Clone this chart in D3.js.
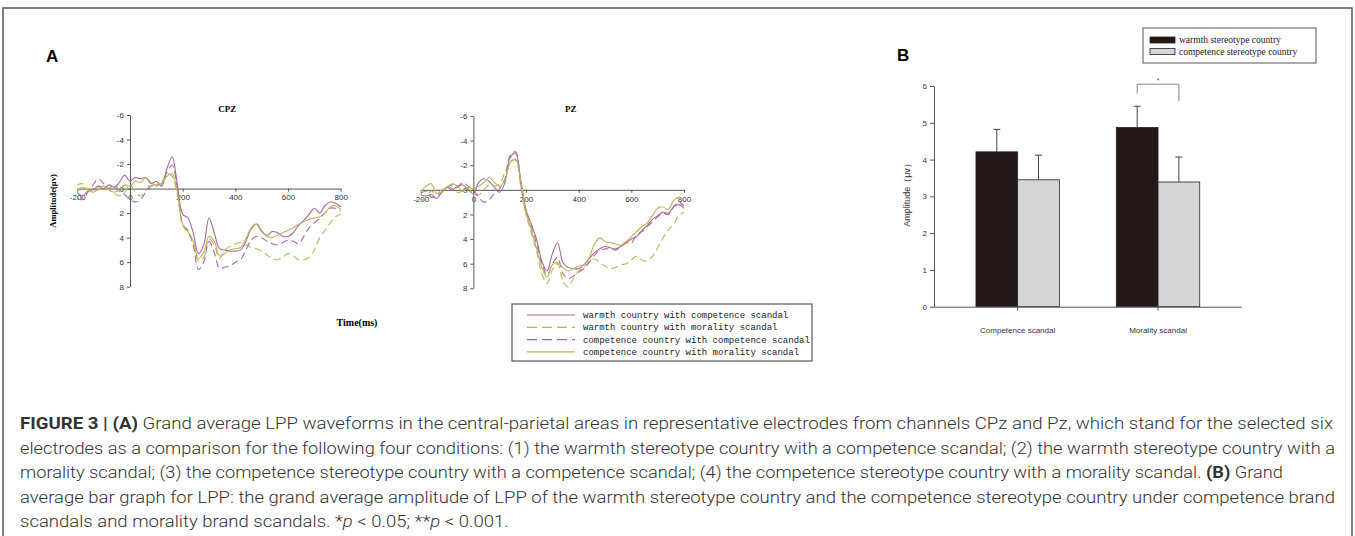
<!DOCTYPE html>
<html>
<head>
<meta charset="utf-8">
<script src="https://cdn.jsdelivr.net/npm/d3@7"></script>
<style>
body { margin: 0; background: #fff; }
</style>
</head>
<body>
<svg width="1355" height="536"></svg>
<script>
const times = [-200, -180, -160, -140, -120, -100, -80, -60, -40, -20, 0, 20, 40, 60, 80, 100, 120, 140, 160, 180, 200,
  220, 240, 260, 280, 300, 320, 340, 360, 380, 400, 420, 440, 460, 480, 500, 520, 540, 560, 580, 600,
  620, 640, 660, 680, 700, 720, 740, 760, 780, 800];

const seriesNames = [
  "warmth country with competence scandal",
  "warmth country with morality scandal",
  "competence country with competence scandal",
  "competence country with morality scandal"
];

// CPZ, amplitude in µV (negative up)
const cpzWarmthCompetence = [0.3, 0.6, 0.2, 0.1, -0.2, 0.0, -0.3, -0.1, -0.5, -1.1, -0.6, -0.9, -0.8, -0.9, -0.4, -0.6, -0.2, -1.6, -2.6, -0.3, 2.1,
  2.4, 3.6, 5.3, 4.6, 2.4, 3.6, 4.9, 5.0, 5.1, 5.1, 5.0, 4.3, 3.3, 2.9, 3.5, 3.8, 3.5, 3.6, 3.9, 3.9,
  3.6, 3.0, 2.6, 2.1, 1.6, 2.0, 1.4, 1.1, 1.2, 1.5];
const cpzWarmthMorality = [-0.3, -0.4, 0.0, 0.2, 0.1, -0.2, 0.1, 0.4, 0.6, 0.3, -0.3, 0.3, 0.6, 0.2, -0.4, -0.2, -0.5, -1.2, -1.0, 0.5, 3.0,
  3.6, 4.4, 5.9, 5.6, 4.1, 4.6, 5.7, 5.0, 4.7, 4.5, 4.4, 4.6, 4.8, 4.9, 5.1, 5.4, 5.7, 5.8, 5.6, 5.3,
  5.5, 5.8, 5.8, 5.6, 5.0, 4.0, 3.4, 2.8, 2.3, 2.1];
const cpzCompetenceCompetence = [0.8, 0.9, 0.3, -0.3, -0.8, -0.4, 0.0, -0.3, 0.2, 0.5, 0.9, 1.1, 0.9, 0.3, -0.2, -0.3, -0.4, -1.3, -1.9, 0.0, 2.9,
  3.4, 4.6, 6.6, 6.0, 4.3, 5.2, 6.5, 6.4, 6.3, 6.0, 5.8, 5.0, 4.2, 3.9, 4.0, 4.3, 4.5, 4.6, 4.4, 4.2,
  4.3, 4.5, 3.9, 3.2, 2.8, 2.4, 2.0, 1.6, 1.6, 1.8];
const cpzCompetenceMorality = [0.1, -0.1, 0.1, 0.3, 0.0, -0.2, 0.1, 0.3, 0.1, -0.3, -0.2, -0.6, -0.5, -0.9, -0.5, -0.3, -0.4, -1.0, -1.2, 0.3, 2.9,
  3.5, 4.3, 5.7, 5.2, 3.9, 4.3, 5.5, 5.3, 5.0, 4.9, 4.8, 4.1, 3.2, 2.9, 3.4, 3.9, 4.0, 3.8, 3.6, 3.4,
  3.2, 2.9, 2.7, 2.5, 2.4, 2.3, 2.0, 1.5, 1.4, 1.7];

// PZ
const pzWarmthCompetence = [0.4, 0.5, 0.4, 0.7, 0.2, -0.2, 0.0, -0.3, -0.4, 0.0, 0.3, -0.6, -0.9, -0.7, -0.2, 0.2, -0.6, -2.6, -3.0, -0.8, 1.6,
  2.8, 4.0, 5.8, 6.6, 5.2, 4.3, 5.9, 6.3, 6.4, 6.4, 6.1, 5.6, 5.1, 4.8, 4.6, 4.7, 4.8, 4.6, 4.3, 4.0,
  3.8, 3.3, 2.9, 2.4, 2.1, 1.8, 1.9, 1.4, 1.2, 1.5];
const pzWarmthMorality = [0.9, 0.6, 0.1, 0.3, 0.0, -0.3, -0.1, 0.2, 0.1, -0.1, 0.3, 0.4, 0.0, -0.4, -0.3, -0.5, -1.4, -2.3, -2.4, -0.3, 2.0,
  3.5, 5.0, 6.8, 7.6, 6.5, 6.0, 7.4, 7.9, 7.2, 6.6, 6.3, 5.8, 5.6, 5.9, 6.2, 6.4, 6.3, 6.1, 6.0, 5.7,
  5.4, 5.7, 5.8, 5.4, 4.7, 3.9, 3.3, 2.8, 2.1, 1.8];
const pzCompetenceCompetence = [0.3, 0.1, 0.6, 0.5, 0.2, -0.2, -0.4, -0.2, -0.6, -0.3, 0.0, 0.6, 1.0, 0.8, 0.3, -0.1, -0.9, -2.8, -3.1, -0.5, 1.9,
  3.0, 4.4, 6.0, 6.9, 6.0, 5.5, 6.8, 7.2, 7.0, 6.7, 6.4, 5.9, 5.3, 4.9, 4.8, 4.8, 4.9, 4.6, 4.3, 4.3,
  3.7, 3.4, 3.0, 2.6, 2.2, 1.9, 2.0, 1.4, 1.0, 1.3];
const pzCompetenceMorality = [0.2, -0.3, -0.5, 0.3, 0.2, -0.2, -0.5, -0.3, 0.1, -0.2, -0.1, -0.3, -0.6, -1.0, -0.6, -0.3, -0.8, -2.2, -2.5, -0.8, 1.8,
  3.2, 4.8, 6.3, 7.1, 6.1, 5.9, 6.3, 6.6, 6.4, 6.2, 6.1, 5.5, 4.4, 3.9, 4.2, 4.3, 4.4, 4.5, 4.2, 3.8,
  3.4, 3.0, 2.7, 2.1, 1.5, 1.4, 1.6, 0.9, 0.6, 0.8];

const timeTicks = [-200, 0, 200, 400, 600, 800];
const ampTicks = [-6, -4, -2, 0, 2, 4, 6, 8];

// bar panel
const barCategories = ["Competence scandal", "Morality scandal"];
const barGroups = ["warmth stereotype country", "competence stereotype country"];
const warmthMeans = [4.21, 4.87];
const competenceMeans = [3.45, 3.39];
const warmthErrors = [0.61, 0.58];
const competenceErrors = [0.67, 0.68];
const barTicks = [0, 1, 2, 3, 4, 5, 6];

const mauve = "#a96a9b";
const olive = "#b7b65a";
const lineStyles = [
  { color: mauve, dash: null },
  { color: olive, dash: "7,4" },
  { color: mauve, dash: "7,4" },
  { color: olive, dash: null }
];

const svg = d3.select("svg");

// frame
svg.append("path")
  .attr("d", "M3,536 V8 H1352 V536")
  .attr("fill", "none")
  .attr("stroke", "#555")
  .attr("stroke-width", 1.5);

svg.append("text").attr("x", 46).attr("y", 62)
  .attr("font-family", "Liberation Sans, Arial, sans-serif")
  .attr("font-weight", "bold").attr("font-size", 17).text("A");
svg.append("text").attr("x", 897).attr("y", 61)
  .attr("font-family", "Liberation Sans, Arial, sans-serif")
  .attr("font-weight", "bold").attr("font-size", 17).text("B");

function drawErp(title, series, xRange, yRange) {
  const x = d3.scaleLinear().domain([-200, 800]).range(xRange);
  const y = d3.scaleLinear().domain([-6, 8]).range(yRange);
  const g = svg.append("g");

  const xAxis = g.append("g")
    .attr("transform", `translate(0,${y(0)})`)
    .call(d3.axisBottom(x).tickValues(timeTicks).tickFormat(d => String(d)).tickSize(3).tickSizeOuter(0));
  const yAxis = g.append("g")
    .attr("transform", `translate(${x(0)},0)`)
    .call(d3.axisLeft(y).tickValues(ampTicks).tickFormat(d => String(d)).tickSize(3).tickSizeOuter(0));
  [xAxis, yAxis].forEach(a => {
    a.selectAll("path, line").attr("stroke", "#555");
    a.selectAll("text").attr("font-family", "Liberation Sans, Arial, sans-serif")
      .attr("font-size", 8).attr("fill", "#333");
  });

  const line = d3.line()
    .x((d, i) => x(times[i]))
    .y(d => y(d))
    .curve(d3.curveCatmullRom.alpha(0.5));

  series.forEach((s, k) => {
    g.append("path")
      .datum(s)
      .attr("d", line)
      .attr("fill", "none")
      .attr("stroke", lineStyles[k].color)
      .attr("stroke-width", 1.1)
      .attr("stroke-dasharray", lineStyles[k].dash);
  });

  g.append("text")
    .attr("x", (x(0) + x(800)) / 2 - 8)
    .attr("y", 112)
    .attr("text-anchor", "middle")
    .attr("font-family", "Liberation Serif, Times New Roman, serif")
    .attr("font-weight", "bold")
    .attr("font-size", 9)
    .text(title);
}

drawErp("CPZ", [cpzWarmthCompetence, cpzWarmthMorality, cpzCompetenceCompetence, cpzCompetenceMorality],
  [77.3, 340.7], [115, 286.7]);
drawErp("PZ", [pzWarmthCompetence, pzWarmthMorality, pzCompetenceCompetence, pzCompetenceMorality],
  [420.7, 684], [116, 288.3]);

svg.append("text")
  .attr("transform", "translate(56,201) rotate(-90)")
  .attr("text-anchor", "middle")
  .attr("font-family", "Liberation Serif, Times New Roman, serif")
  .attr("font-weight", "bold")
  .attr("font-size", 8.5)
  .text("Amplitude(μv)");

svg.append("text")
  .attr("x", 357).attr("y", 326)
  .attr("text-anchor", "middle")
  .attr("font-family", "Liberation Serif, Times New Roman, serif")
  .attr("font-weight", "bold")
  .attr("font-size", 10)
  .text("Time(ms)");

// legend A
const legA = svg.append("g");
legA.append("rect")
  .attr("x", 512).attr("y", 304).attr("width", 300).attr("height", 57)
  .attr("fill", "#fff").attr("stroke", "#555").attr("stroke-width", 1.2);
seriesNames.forEach((name, k) => {
  const yy = 315 + k * 12.3;
  legA.append("line")
    .attr("x1", 527).attr("x2", 575).attr("y1", yy).attr("y2", yy)
    .attr("stroke", lineStyles[k].color).attr("stroke-width", 1.2)
    .attr("stroke-dasharray", lineStyles[k].dash ? "10,5" : null);
  legA.append("text")
    .attr("x", 583).attr("y", yy + 3)
    .attr("font-family", "Liberation Mono, DejaVu Sans Mono, monospace")
    .attr("font-size", 9)
    .attr("fill", "#222")
    .text(name);
});

// bar chart B
const yB = d3.scaleLinear().domain([0, 6]).range([306.7, 86]);
const x0 = d3.scaleBand().domain(barCategories).range([934, 1241.7]).paddingInner(0).paddingOuter(0.096);
const x1 = d3.scaleBand().domain(barGroups).range([0, x0.bandwidth()]).paddingInner(0).paddingOuter(0.683);
const barMeans = [warmthMeans, competenceMeans];
const barErrors = [warmthErrors, competenceErrors];
const barFills = ["#231815", "#d5d6d7"];

const gB = svg.append("g");
barGroups.forEach((grp, gi) => {
  barCategories.forEach((cat, ci) => {
    const bx = x0(cat) + x1(grp);
    const v = barMeans[gi][ci];
    const e = barErrors[gi][ci];
    const cx = bx + x1.bandwidth() / 2;
    gB.append("line")
      .attr("x1", cx).attr("x2", cx).attr("y1", yB(v)).attr("y2", yB(v + e))
      .attr("stroke", "#444").attr("stroke-width", 1);
    gB.append("line")
      .attr("x1", cx - 3.5).attr("x2", cx + 3.5).attr("y1", yB(v + e)).attr("y2", yB(v + e))
      .attr("stroke", "#444").attr("stroke-width", 1);
    gB.append("rect")
      .attr("x", bx).attr("y", yB(v))
      .attr("width", x1.bandwidth()).attr("height", yB(0) - yB(v))
      .attr("fill", barFills[gi]).attr("stroke", "#222").attr("stroke-width", 0.8);
  });
});

const yAxisB = gB.append("g")
  .attr("transform", "translate(934,0)")
  .call(d3.axisLeft(yB).tickValues(barTicks).tickFormat(d3.format("d")).tickSize(4).tickSizeOuter(0));
const xAxisB = gB.append("g")
  .attr("transform", `translate(0,${yB(0)})`)
  .call(d3.axisBottom(x0).tickSize(4).tickSizeOuter(0).tickPadding(17));
[yAxisB, xAxisB].forEach(a => {
  a.selectAll("path, line").attr("stroke", "#555");
  a.selectAll("text").attr("font-family", "Liberation Sans, Arial, sans-serif")
    .attr("font-size", 8).attr("fill", "#333");
});
xAxisB.select(".domain").attr("d", `M934,0.5H1241.7`);

gB.append("text")
  .attr("transform", "translate(910,193) rotate(-90)")
  .attr("text-anchor", "middle")
  .attr("font-family", "Liberation Sans, Arial, sans-serif")
  .attr("font-size", 9)
  .attr("fill", "#333")
  .text("Amplitude（μv）");

// significance bracket
const bxL = x0("Morality scandal") + x1(barGroups[0]) + x1.bandwidth() / 2;
const bxR = x0("Morality scandal") + x1(barGroups[1]) + x1.bandwidth() / 2;
gB.append("path")
  .attr("d", `M${bxL},${yB(5.79)} V${yB(6.05)} H${bxR} V${yB(5.58)}`)
  .attr("fill", "none").attr("stroke", "#888").attr("stroke-width", 1);
gB.append("text")
  .attr("x", (bxL + bxR) / 2).attr("y", 83)
  .attr("text-anchor", "middle")
  .attr("font-family", "Liberation Sans, Arial, sans-serif")
  .attr("font-size", 7).attr("fill", "#666")
  .text("*");

// legend B
const legB = svg.append("g");
legB.append("rect")
  .attr("x", 1143).attr("y", 28).attr("width", 173).attr("height", 35)
  .attr("fill", "#fff").attr("stroke", "#555").attr("stroke-width", 1);
barGroups.forEach((grp, gi) => {
  const yy = 40 + gi * 11.5;
  legB.append("rect")
    .attr("x", 1150).attr("y", yy - 3).attr("width", 25).attr("height", 6)
    .attr("fill", barFills[gi]).attr("stroke", "#222").attr("stroke-width", 0.8);
  legB.append("text")
    .attr("x", 1179).attr("y", yy + 3)
    .attr("font-family", "Liberation Serif, Times New Roman, serif")
    .attr("font-size", 9.5).attr("fill", "#222")
    .text(grp);
});

// caption
const captionLines = [
  [{ t: "FIGURE 3 | (A)", b: true }, { t: " Grand average LPP waveforms in the central-parietal areas in representative electrodes from channels CPz and Pz, which stand for the selected six" }],
  [{ t: "electrodes as a comparison for the following four conditions: (1) the warmth stereotype country with a competence scandal; (2) the warmth stereotype country with a" }],
  [{ t: "morality scandal; (3) the competence stereotype country with a competence scandal; (4) the competence stereotype country with a morality scandal. " }, { t: "(B)", b: true }, { t: " Grand" }],
  [{ t: "average bar graph for LPP: the grand average amplitude of LPP of the warmth stereotype country and the competence stereotype country under competence brand" }],
  [{ t: "scandals and morality brand scandals. *" }, { t: "p", i: true }, { t: " < 0.05; **" }, { t: "p", i: true }, { t: " < 0.001." }]
];
const captionWidths = [1313, 1315, 1263, 1315];

const cap = svg.append("g")
  .attr("font-family", "Roboto, Liberation Sans, sans-serif")
  .attr("font-size", 16.5)
  .attr("font-weight", 300)
  .attr("fill", "#333");
const capTexts = captionLines.map((parts, i) => {
  const t = cap.append("text")
    .attr("x", 20).attr("y", 429 + i * 24.5);
  parts.forEach(p => {
    t.append("tspan")
      .attr("font-weight", p.b ? "bold" : null)
      .attr("font-style", p.i ? "italic" : null)
      .text(p.t);
  });
  return t;
});
const squeeze = captionWidths[3] / capTexts[3].node().getComputedTextLength();
capTexts.forEach((t, i) => {
  const w = i < captionWidths.length ? captionWidths[i] : t.node().getComputedTextLength() * squeeze;
  t.attr("textLength", w).attr("lengthAdjust", "spacingAndGlyphs");
});
</script>
</body>
</html>
